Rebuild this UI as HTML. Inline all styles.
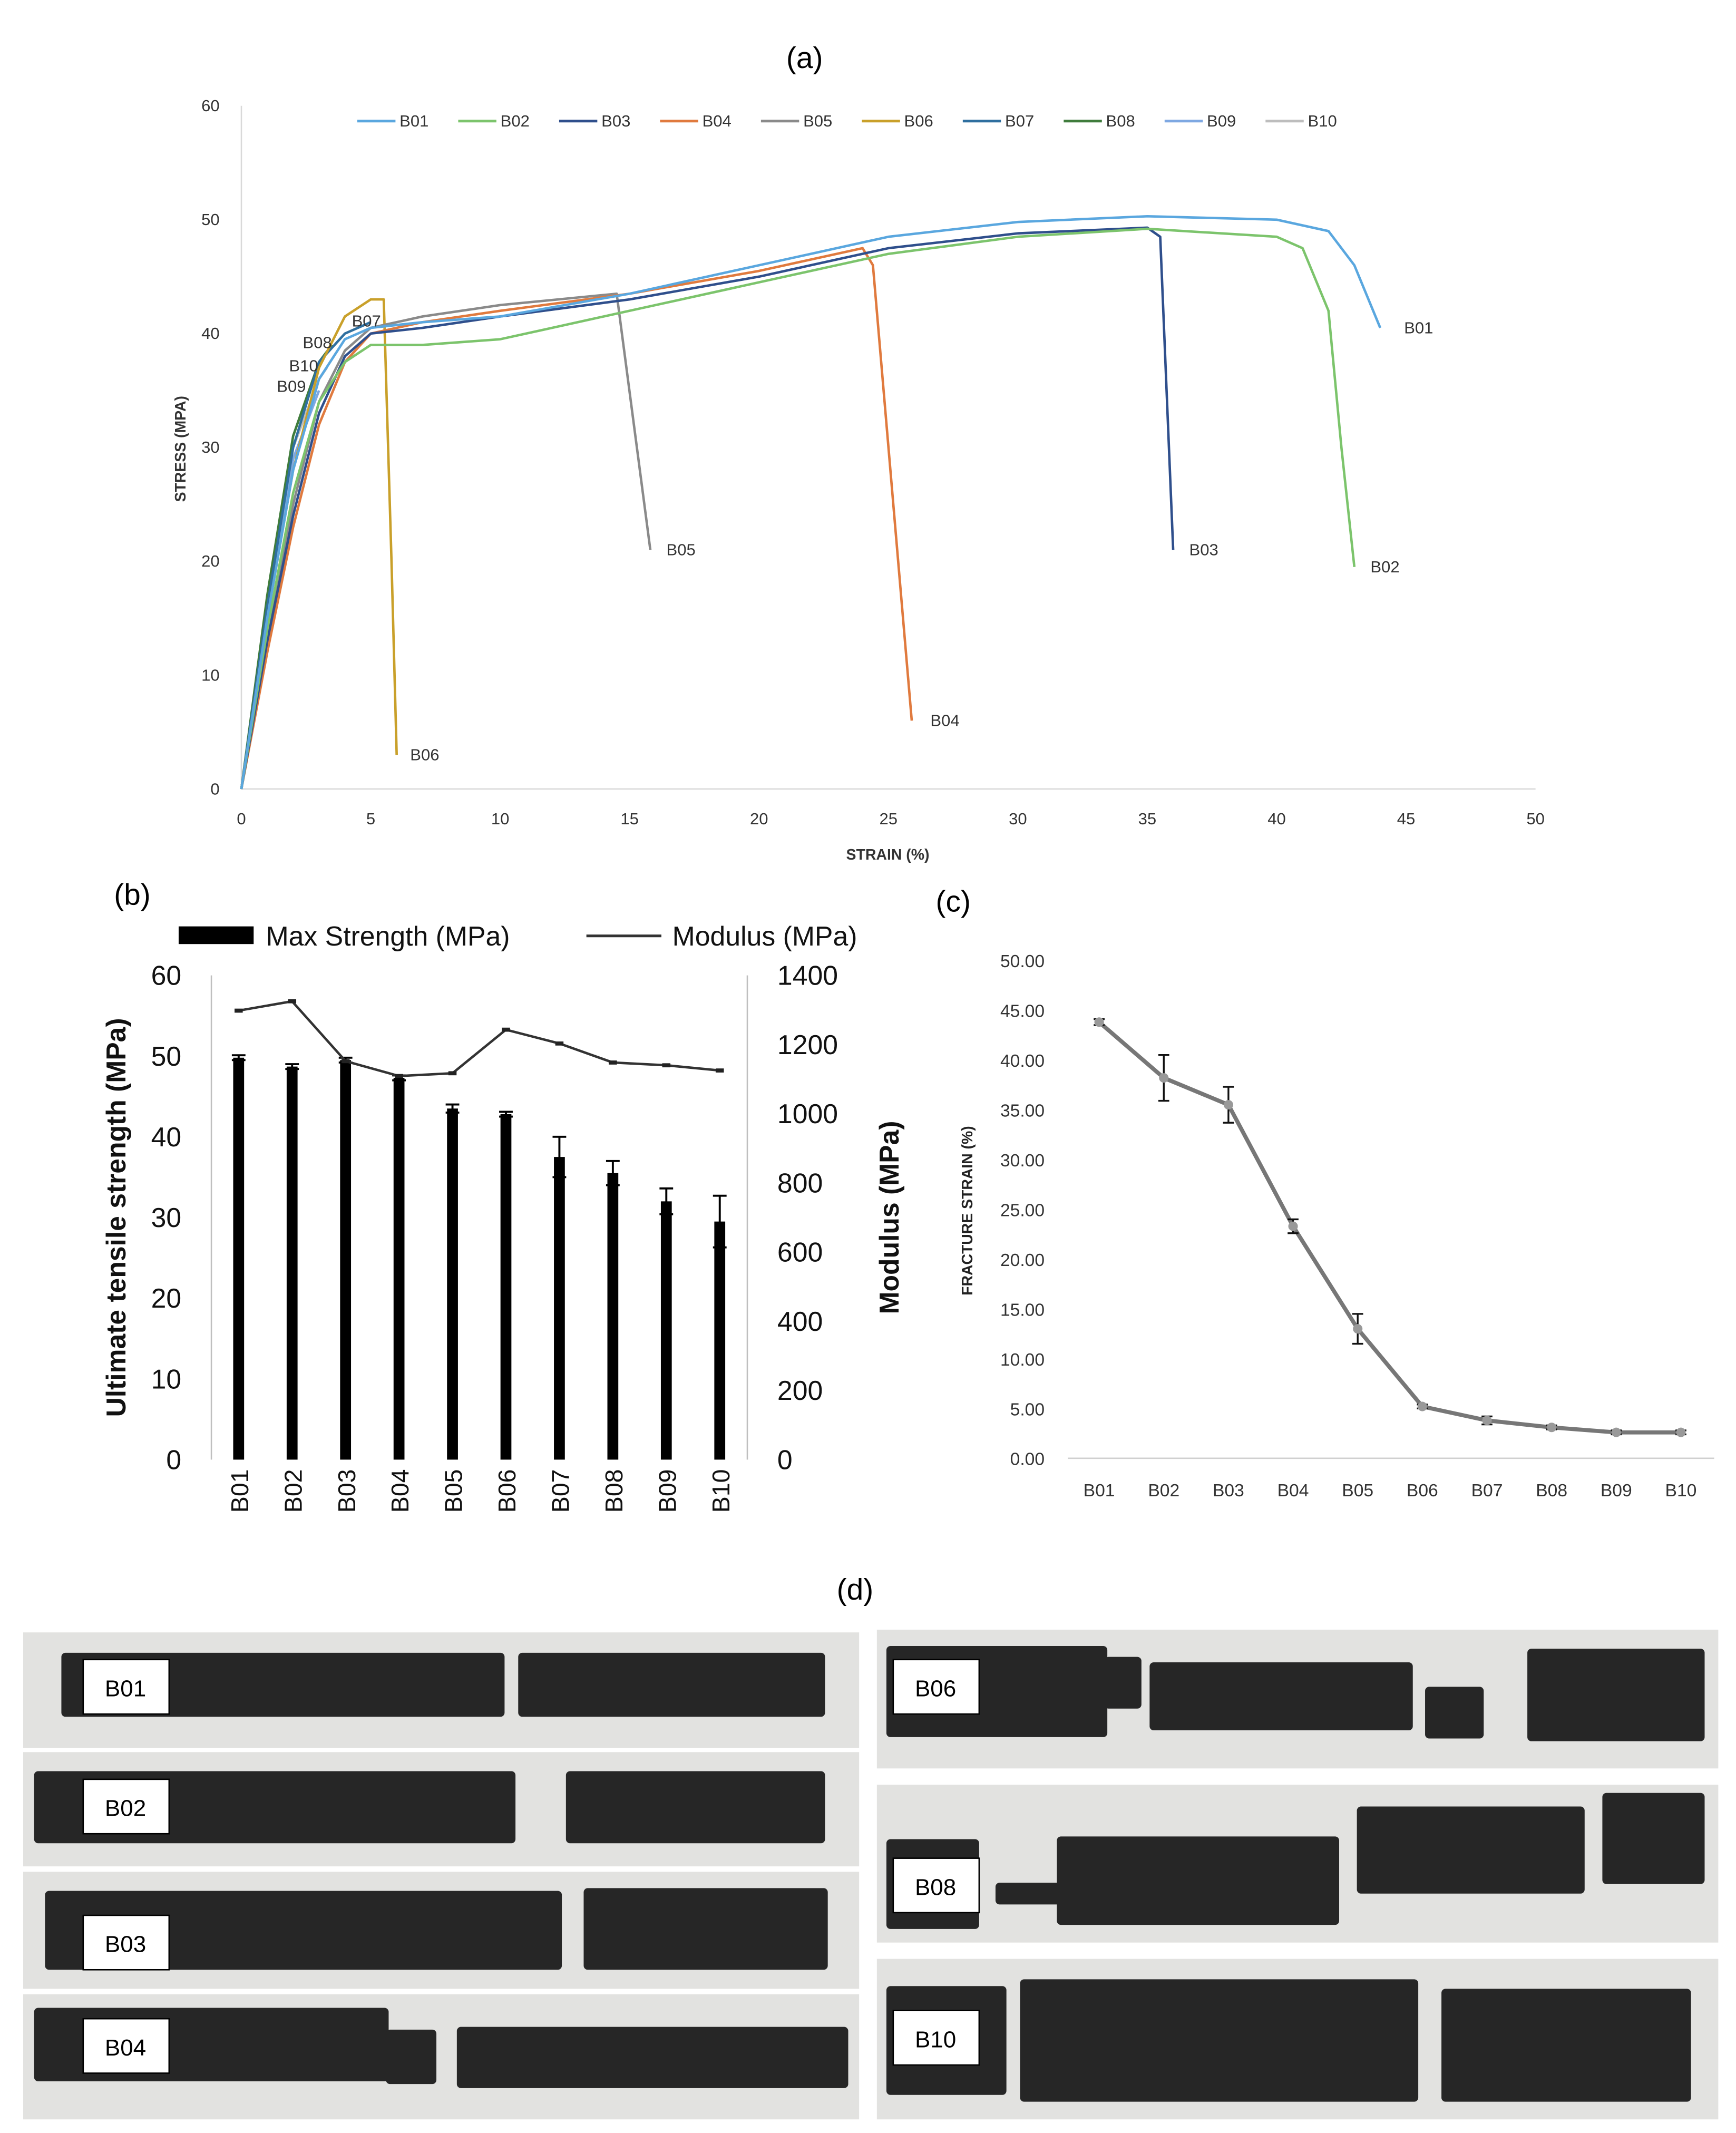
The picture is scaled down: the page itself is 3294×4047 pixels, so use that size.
<!DOCTYPE html>
<html><head><meta charset="utf-8"><style>
html,body{margin:0;padding:0;background:#fff}
svg{display:block}
text{font-family:"Liberation Sans",sans-serif}
</style></head><body>
<svg id="s" width="3294" height="4047" viewBox="0 0 1273 1568" preserveAspectRatio="none" xmlns="http://www.w3.org/2000/svg">
<rect width="1273" height="1568" fill="#fff"/>
<g id="pa"></g>
<g id="pb"></g>
<g id="pc"></g>
<g id="pd"></g>
</svg>
<script>
// ---------- Panel (a) data ----------
const aSeries=["B01","B02","B03","B04","B05","B06","B07","B08","B09","B10"];
const aColors=["#5aa7df","#7cc46c","#2f4f8c","#e07a3e","#8a8a8a","#c9a02a","#2f6f9f","#3f7c3c","#7ea8e2","#bdbdbd"];
const aStrain=[
[0,1,2,3,4,5,7,10,15,20,25,30,35,40,42,43,44],
[0,1,2,3,4,5,7,10,15,20,25,30,35,40,41,42,42.5,43],
[0,1,2,3,4,5,7,10,15,20,25,30,35,35.5,36],
[0,1,2,3,4,5,7,10,15,20,24,24.4,25.9],
[0,1,2,3,4,5,7,10,14.5,15.8],
[0,1,2,3,4,5,5.5,5.8,6],
[0,1,2,3,4,5],
[0,1,2,3,3.5],
[0,1,2,3],
[0,1,2,3,3.3]];
const aStress=[
[0,15,28,36,39.5,40.5,41,41.5,43.5,46,48.5,49.8,50.3,50,49,46,40.5],
[0,14,26,34,37.5,39,39,39.5,42,44.5,47,48.5,49.2,48.5,47.5,42,30,19.5],
[0,13,24,33,38,40,40.5,41.5,43,45,47.5,48.8,49.3,48.5,21],
[0,12,23,32,37.5,40,41,42,43.5,45.5,47.5,46,6],
[0,13,25,34,38.5,40.5,41.5,42.5,43.5,21],
[0,15,28,37,41.5,43,43,20,3],
[0,16,30,37.5,40,41],
[0,17,31,37.5,39],
[0,16,29,35],
[0,16.5,30,36,37]];
const aLabelPos=[[44.5,40.5],[43.2,19.5],[36.2,21],[26.2,6],[16,21],[6.1,3]];
const aXTicks=[0,5,10,15,20,25,30,35,40,45,50];
const aYTicks=[0,10,20,30,40,50,60];

// ---------- Panel (b) data ----------
const bCats=["B01","B02","B03","B04","B05","B06","B07","B08","B09","B10"];
const bStrength=[49.8,48.7,49.5,47.3,43.5,42.8,37.5,35.5,32,29.5];
const bStrengthErr=[0.3,0.3,0.3,0.3,0.5,0.3,2.5,1.5,1.6,3.2];
const bModulus=[1298,1325,1152,1109,1117,1243,1203,1148,1140,1125];
const bLeftTicks=[0,10,20,30,40,50,60];
const bRightTicks=[0,200,400,600,800,1000,1200,1400];

// ---------- Panel (c) data ----------
const cCats=["B01","B02","B03","B04","B05","B06","B07","B08","B09","B10"];
const cStrain=[43.8,38.2,35.5,23.3,13,5.2,3.8,3.1,2.6,2.6];
const cErr=[0.3,2.3,1.8,0.7,1.5,0.2,0.4,0.2,0.2,0.2];
const cTicks=[0,5,10,15,20,25,30,35,40,45,50];

const NS="http://www.w3.org/2000/svg";
function mk(p,tag,at,txt){const e=document.createElementNS(NS,tag);for(const k in at)e.setAttribute(k,at[k]);if(txt!==undefined)e.textContent=txt;p.appendChild(e);return e;}

// ===== Panel a =====
(function(){
const g=document.getElementById('pa');
const X=v=>177+v*18.98, Y=v=>580-v*8.37;
let t=mk(g,'text',{x:590,y:50,'font-size':22,'text-anchor':'middle'},'(a)');


let ax=mk(g,'path',{d:`M${X(0)} ${Y(60)}V${Y(0)}H${X(50)}`,stroke:'#d9d9d9',fill:'none','stroke-width':1});


aYTicks.forEach(v=>{const e=mk(g,'text',{x:161,y:Y(v)+4,'font-size':12,'text-anchor':'end',fill:'#333'},v);

});
aXTicks.forEach(v=>{const e=mk(g,'text',{x:X(v),y:606,'font-size':12,'text-anchor':'middle',fill:'#333'},v);

});
t=mk(g,'text',{x:651,y:632,'font-size':11,'font-weight':'bold','text-anchor':'middle',fill:'#333'},'STRAIN (%)');


t=mk(g,'text',{x:0,y:0,'font-size':11,'font-weight':'bold','text-anchor':'middle',fill:'#333',transform:'translate(136,330) rotate(-90)'},'STRESS (MPA)');


aSeries.forEach((n,i)=>{
 const lx=262+i*74;
 const l=mk(g,'line',{x1:lx,y1:89,x2:lx+28,y2:89,stroke:aColors[i],'stroke-width':2});
 
 
 const e=mk(g,'text',{x:lx+31,y:93,'font-size':12,fill:'#333'},n);
 
 
});
for(let i=aSeries.length-1;i>=0;i--){
 const d=aStrain[i].map((s,j)=>(j?'L':'M')+X(s)+' '+Y(aStress[i][j])).join('');
 const p=mk(g,'path',{d:d,stroke:aColors[i],fill:'none','stroke-width':1.8,'stroke-linejoin':'round'});
 
 
}
aLabelPos.forEach((pp,i)=>{const e=mk(g,'text',{x:X(pp[0])+8,y:Y(pp[1])+4,'font-size':12,fill:'#333'},aSeries[i]);

});
[["B07",258,240],["B08",222,256],["B10",212,273],["B09",203,288]].forEach(a=>{const e=mk(g,'text',{x:a[1],y:a[2],'font-size':12,fill:'#333'},a[0]);

});
})();

// ===== Panel b =====
(function(){
const g=document.getElementById('pb');
const XC=i=>175+i*39.2, YL=v=>1073-v*(356/60), YR=v=>1073-v*(356/1400);
let t=mk(g,'text',{x:97,y:665,'font-size':22,'text-anchor':'middle'},'(b)');


let r=mk(g,'rect',{x:131,y:681,width:55,height:13,fill:'#000'});


t=mk(g,'text',{x:195,y:695,'font-size':20,fill:'#111'},'Max Strength (MPa)');


r=mk(g,'line',{x1:430,y1:688,x2:485,y2:688,stroke:'#333','stroke-width':2});


t=mk(g,'text',{x:493,y:695,'font-size':20,fill:'#111'},'Modulus (MPa)');


let ax=mk(g,'path',{d:'M155 717V1073M548 717V1073',stroke:'#bfbfbf','stroke-width':1,fill:'none'});


bLeftTicks.forEach(v=>{const e=mk(g,'text',{x:133,y:YL(v)+7,'font-size':20,'text-anchor':'end',fill:'#111'},v);

});
bRightTicks.forEach(v=>{const e=mk(g,'text',{x:570,y:YR(v)+7,'font-size':20,fill:'#111'},v);

});
t=mk(g,'text',{x:0,y:0,'font-size':20,'font-weight':'bold','text-anchor':'middle',fill:'#111',transform:'translate(92,895) rotate(-90)'},'Ultimate tensile strength (MPa)');


t=mk(g,'text',{x:0,y:0,'font-size':20,'font-weight':'bold','text-anchor':'middle',fill:'#111',transform:'translate(659,895) rotate(-90)'},'Modulus  (MPa)');


bCats.forEach((c,i)=>{
 const x=XC(i);
 const b=mk(g,'rect',{x:x-4,y:YL(bStrength[i]),width:8,height:1073-YL(bStrength[i]),fill:'#000'});
 
 
 const hi=YL(bStrength[i]+bStrengthErr[i]),lo=YL(bStrength[i]-bStrengthErr[i]);
 const e=mk(g,'path',{d:`M${x} ${hi}V${lo}M${x-5} ${hi}H${x+5}M${x-5} ${lo}H${x+5}`,stroke:'#000','stroke-width':1.5,fill:'none'});
 
 
 const l=mk(g,'text',{x:0,y:0,'font-size':18,'text-anchor':'end',fill:'#111',transform:`translate(${x+7},1080) rotate(-90)`},c);
 
 
});
const d=bModulus.map((v,i)=>(i?'L':'M')+XC(i)+' '+YR(v)).join('');
const p=mk(g,'path',{d:d,stroke:'#333','stroke-width':1.8,fill:'none'});


bModulus.forEach((v,i)=>{const m=mk(g,'path',{d:`M${XC(i)-3} ${YR(v)}H${XC(i)+3}`,stroke:'#222','stroke-width':3});

});
})();

// ===== Panel c =====
(function(){
const g=document.getElementById('pc');
const XC=i=>806+i*47.4, Y=v=>1072-v*7.32;
let t=mk(g,'text',{x:699,y:670,'font-size':22,'text-anchor':'middle'},'(c)');


let ax=mk(g,'path',{d:'M783 1072H1257',stroke:'#d0d0d0','stroke-width':1});


cTicks.forEach(v=>{const e=mk(g,'text',{x:766,y:Y(v)+5,'font-size':13,'text-anchor':'end',fill:'#333'},v.toFixed(2));

});
cCats.forEach((c,i)=>{const e=mk(g,'text',{x:XC(i),y:1100,'font-size':13,'text-anchor':'middle',fill:'#333'},c);

});
t=mk(g,'text',{x:0,y:0,'font-size':11,'font-weight':'bold','text-anchor':'middle',fill:'#222',transform:'translate(713,890) rotate(-90)'},'FRACTURE STRAIN (%)');


const d=cStrain.map((v,i)=>(i?'L':'M')+XC(i)+' '+Y(v)).join('');
const p=mk(g,'path',{d:d,stroke:'#777','stroke-width':3,fill:'none','stroke-linejoin':'round'});


cCats.forEach((c,i)=>{
 const x=XC(i),hi=Y(cStrain[i]+cErr[i]),lo=Y(cStrain[i]-cErr[i]);
 const e=mk(g,'path',{d:`M${x} ${hi}V${lo}M${x-4} ${hi}H${x+4}M${x-4} ${lo}H${x+4}`,stroke:'#111','stroke-width':1.3,fill:'none'});
 
 
 const m=mk(g,'circle',{cx:x,cy:Y(cStrain[i]),r:3.5,fill:'#999'});
 
 
});
})();

// ===== Panel d =====
(function(){
const g=document.getElementById('pd');
let t=mk(g,'text',{x:627,y:1176,'font-size':22,'text-anchor':'middle'},'(d)');


const rows=[
 ["B01",17,1200,613,85,61,1220,[[45,1215,370,1262],[380,1215,605,1262]]],
 ["B02",17,1288,613,84,61,1308,[[25,1302,378,1355],[415,1302,605,1355]]],
 ["B03",17,1376,613,86,61,1408,[[33,1390,412,1448],[428,1388,607,1448]]],
 ["B04",17,1466,613,92,61,1484,[[25,1476,285,1530],[283,1492,320,1532],[335,1490,622,1535]]],
 ["B06",643,1198,617,102,655,1220,[[650,1210,812,1277],[810,1218,837,1256],[843,1222,1036,1272],[1045,1240,1088,1278],[1120,1212,1250,1280]]],
 ["B08",643,1312,617,116,655,1366,[[650,1352,718,1418],[730,1384,780,1400],[775,1350,982,1415],[995,1328,1162,1392],[1175,1318,1250,1385]]],
 ["B10",643,1440,617,118,655,1478,[[650,1460,738,1540],[748,1455,1040,1545],[1057,1462,1240,1545]]]];
rows.forEach(r=>{
 const bg=mk(g,'rect',{x:r[1],y:r[2],width:r[3],height:r[4],fill:'#e2e2e0'});
 
 
 r[7].forEach(s=>{const sp=mk(g,'rect',{x:s[0],y:s[1],width:s[2]-s[0],height:s[3]-s[1],fill:'#262626',rx:3});
 
 });
 const lb=mk(g,'rect',{x:r[5],y:r[6],width:63,height:40,fill:'#fff',stroke:'#000','stroke-width':1});
 
 
 const tx=mk(g,'text',{x:r[5]+31,y:r[6]+27,'font-size':17,'text-anchor':'middle',fill:'#000'},r[0]);
 
 
});
})();
</script>
</body></html>
